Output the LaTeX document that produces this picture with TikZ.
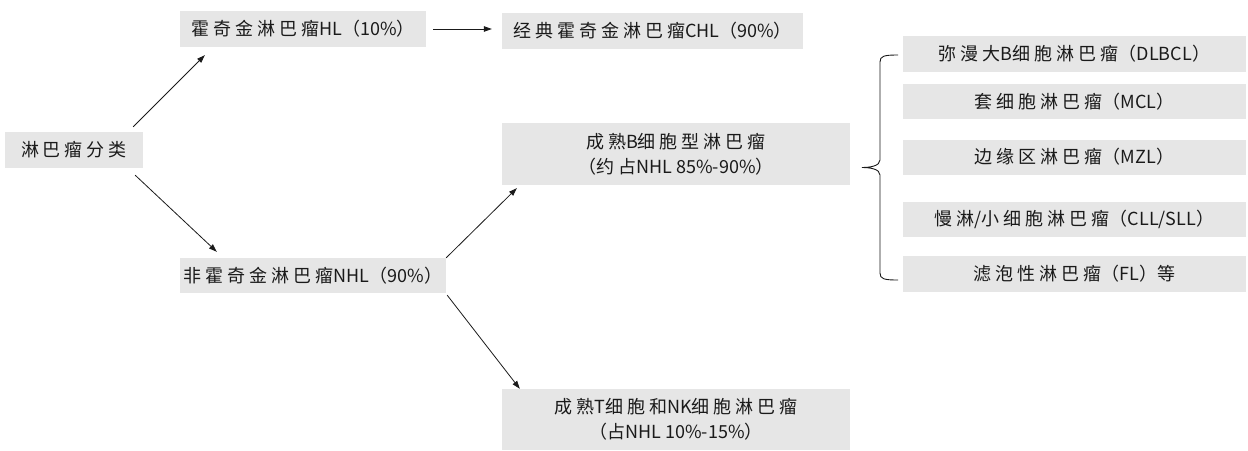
\documentclass[tikz,border=0pt]{standalone}
\usepackage{fontspec}
\setmainfont{Noto Sans CJK SC}
\usetikzlibrary{arrows.meta}
\newcount\hanc
\hanc="4E00
\loop \XeTeXcharclass\hanc=7 \advance\hanc by 1 \ifnum\hanc<"A000 \repeat
\XeTeXcharclass"FF08=8
\XeTeXcharclass"FF09=9
\XeTeXinterchartoks 7 7 = {\hskip 4pt\relax}
\definecolor{boxgray}{HTML}{E6E6E6}
\definecolor{ink}{HTML}{1A1A1A}
\newcommand{\boxfont}{\XeTeXinterchartokenstate=1 \fontsize{18pt}{25pt}\selectfont}
\tikzset{
  box/.style={fill=boxgray, inner sep=0pt, font=\boxfont, text=ink, align=center},
  arr/.style={draw=ink, line width=0.8pt, -{Triangle[length=8pt,width=5.5pt]}},
  bracepath/.style={draw=ink, line width=0.9pt}
}
\begin{document}
\begin{tikzpicture}[x=1pt,y=-1pt]
\useasboundingbox (0,0) rectangle (1248,450);
% left column
\node[box, minimum width=138pt, minimum height=36pt] (root) at (74,150) {淋巴瘤分类};
\node[box, minimum width=246pt, minimum height=36pt] (hl) at (303,29) {霍奇金淋巴瘤HL（10\%）};
\node[box, minimum width=266pt, minimum height=35pt] (nhl) at (313,275.5) {非霍奇金淋巴瘤NHL（90\%）};
% middle column
\node[box, minimum width=301pt, minimum height=36pt] (chl) at (652.5,31) {经典霍奇金淋巴瘤CHL（90\%）};
\node[box, minimum width=348pt, minimum height=62pt] (bcell) at (676,154) {成熟B细胞型淋巴瘤\\（约占NHL 85\%-90\%）};
\node[box, minimum width=348pt, minimum height=61pt] (tcell) at (676,419.5) {成熟T细胞和NK细胞淋巴瘤\\（占NHL 10\%-15\%）};
% right column
\node[box, minimum width=343pt, minimum height=36pt] (r1) at (1074.5,54) {弥漫大B细胞淋巴瘤（DLBCL）};
\node[box, minimum width=343pt, minimum height=35pt] (r2) at (1074.5,101.5) {套细胞淋巴瘤（MCL）};
\node[box, minimum width=343pt, minimum height=35pt] (r3) at (1074.5,157) {边缘区淋巴瘤（MZL）};
\node[box, minimum width=343pt, minimum height=35pt] (r4) at (1074.5,219.5) {慢淋/小细胞淋巴瘤（CLL/SLL）};
\node[box, minimum width=343pt, minimum height=36pt] (r5) at (1074.5,274) {滤泡性淋巴瘤（FL）等};
% arrows
\draw[arr] ([xshift=-10pt,yshift=5pt]root.north east) -- ([xshift=25pt,yshift=-8pt]hl.south west);
\draw[arr] ([xshift=-8pt,yshift=-7pt]root.south east) -- ([xshift=37pt,yshift=6pt]nhl.north west);
\draw[arr] ([xshift=7pt]hl.east) -- ([xshift=-10pt,yshift=2pt]chl.west);
\draw[arr] (nhl.north east) -- ([xshift=15pt,yshift=-3pt]bcell.south west);
\draw[arr] ([xshift=1pt,yshift=-2pt]nhl.south east) -- ([xshift=18pt]tcell.north west);
% brace
\draw[bracepath] (898,55) .. controls (884,55) and (880,56) .. (880,62) -- (880,160)
  .. controls (880,166) and (870,167.5) .. (862,167.5)
  .. controls (870,167.5) and (880,169) .. (880,175) -- (880,273)
  .. controls (880,279) and (884,280) .. (898,280);
\end{tikzpicture}
\end{document}
